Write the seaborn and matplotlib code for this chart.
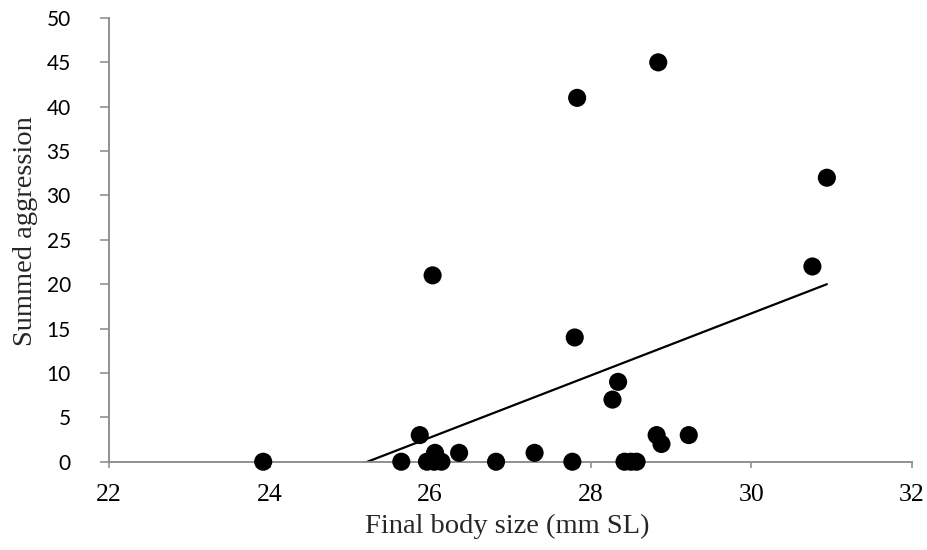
import numpy as np
import pandas as pd
import matplotlib
matplotlib.use("Agg")
import matplotlib.pyplot as plt
import seaborn as sns

# Data
body_size = [23.92, 25.64, 25.87, 25.96, 26.05, 26.14, 26.06, 26.03, 26.36,
             26.82, 27.30, 27.77, 27.80, 27.83, 28.27, 28.34, 28.42, 28.50,
             28.57, 28.82, 28.88, 28.84, 29.22, 30.76, 30.94]
aggression = [0, 0, 3, 0, 0, 0, 1, 21, 1,
              0, 1, 0, 14, 41, 7, 9, 0, 0,
              0, 3, 2, 45, 3, 22, 32]
x_ticks = [22, 24, 26, 28, 30, 32]
y_ticks = [0, 5, 10, 15, 20, 25, 30, 35, 40, 45, 50]

df = pd.DataFrame({"size": body_size, "aggr": aggression})

sns.set_style("white")
fig = plt.figure(figsize=(9.27, 5.5), dpi=100)
ax = fig.add_axes([0.1176, 0.1605, 0.8662, 0.8068])

sns.regplot(data=df, x="size", y="aggr", ax=ax, ci=None, truncate=True,
            scatter_kws=dict(s=170, color="black", edgecolor="none", alpha=1, zorder=3),
            line_kws=dict(color="black", lw=1.6, zorder=2))

ax.set_xlim(22, 32)
ax.set_ylim(0, 50)
ax.set_xticks(x_ticks)
ax.set_yticks(y_ticks)
ax.set_xticklabels([str(v) for v in x_ticks], fontfamily="Liberation Serif", fontsize=18.5)
ax.set_yticklabels([str(v) for v in y_ticks], fontfamily="Lato", fontsize=15)

for side in ["top", "right"]:
    ax.spines[side].set_visible(False)
for side in ["left", "bottom"]:
    ax.spines[side].set_color("#888888")
    ax.spines[side].set_linewidth(1.3)
ax.tick_params(axis="both", direction="out", width=1.1, color="#888888",
               left=True, bottom=True, labelcolor="black")
ax.tick_params(axis="y", length=6.5, pad=21)
ax.tick_params(axis="x", length=4.3, pad=12)

ax.set_xlabel("Final body size (mm SL)", fontfamily="Liberation Serif", fontsize=20.5)
ax.set_ylabel("Summed aggression", fontfamily="Liberation Serif", fontsize=20.5)
ax.xaxis.set_label_coords(0.496, -0.118)
ax.yaxis.set_label_coords(-0.088, 0.52)

ax.collections[0].set_clip_on(False)

fig.savefig("out.png", dpi=100)
